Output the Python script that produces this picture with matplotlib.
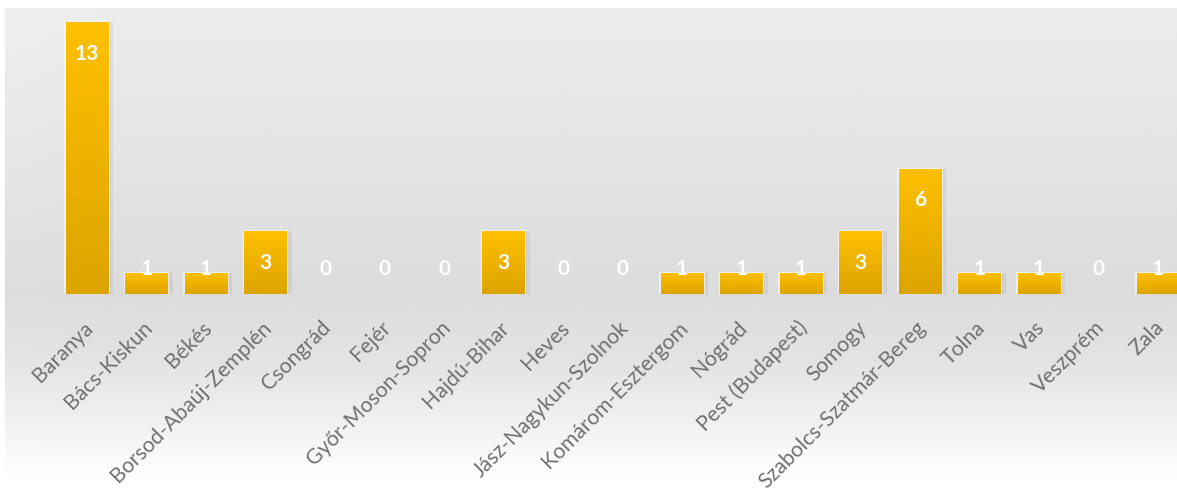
import numpy as np
import matplotlib.pyplot as plt
import matplotlib.transforms as mtransforms
from matplotlib.colors import LinearSegmentedColormap

counties = ["Baranya", "Bács-Kiskun", "Békés", "Borsod-Abaúj-Zemplén", "Csongrád",
            "Fejér", "Győr-Moson-Sopron", "Hajdú-Bihar", "Heves", "Jász-Nagykun-Szolnok",
            "Komárom-Esztergom", "Nógrád", "Pest (Budapest)", "Somogy",
            "Szabolcs-Szatmár-Bereg", "Tolna", "Vas", "Veszprém", "Zala"]
counts = [13, 1, 1, 3, 0, 0, 0, 3, 0, 0, 1, 1, 1, 3, 6, 1, 1, 0, 1]

W, H = 1177, 498
fig = plt.figure(figsize=(W / 100, H / 100), dpi=100)
fig.patch.set_facecolor("white")

# background gradient (grey on top, fading to white at the bottom)
bg = fig.add_axes([5 / W, 0, 1 - 5 / W, 1 - 8 / H], zorder=0)
yy = np.linspace(0, 1, 300)[:, None]
xx = np.linspace(0, 1, 400)[None, :]
prof = np.interp(yy, [0, 0.3, 0.58, 0.72, 0.85, 0.95, 1.0],
                 [0.925, 0.895, 0.862, 0.89, 0.945, 0.995, 1.0])
side = 0.012 * np.exp(-((xx - 0.0) / 0.06) ** 2) * (1 - yy)
bg.imshow(np.clip(prof + side, 0, 1), cmap="gray", vmin=0, vmax=1,
          aspect="auto", extent=[0, 1, 1, 0], interpolation="bicubic")
bg.axis("off")

# main axes
base_px, top_px = 294, 8
ax = fig.add_axes([8 / W, 1 - base_px / H, 1 - 8 / W, (base_px - top_px) / H], zorder=1)
ax.patch.set_alpha(0)
px_per_unit = 20.9

x = np.arange(len(counties))
vals = np.array(counts, dtype=float)
bw = 0.71
has = vals > 0

# soft shadow and halo behind the bars
ax.bar(x[has] + 0.09, vals[has], width=bw, color="#9a9a9a", alpha=0.18, zorder=1, linewidth=0)
ax.bar(x[has], vals[has] + 0.08, width=bw + 0.06, bottom=-0.04, color="white",
       alpha=0.55, zorder=2, linewidth=0)
bars = ax.bar(x, vals, width=bw, color="#f2b700", zorder=3, linewidth=0)

gold = LinearSegmentedColormap.from_list("gold", ["#dca400", "#ffc000"])
grad = np.linspace(0, 1, 100)[:, None]
for b in bars:
    if b.get_height() <= 0:
        continue
    x0, w, h = b.get_x(), b.get_width(), b.get_height()
    im = ax.imshow(grad, cmap=gold, aspect="auto", origin="lower",
                   extent=[x0, x0 + w, 0, h], zorder=4, interpolation="bicubic")
    im.set_clip_path(b)

ax.set_xlim((8 - 87) / 59.5, (1177 - 87) / 59.5)
ax.set_ylim(0, (base_px - top_px) / px_per_unit)

# value labels, white bold near the top of each bar
for xi, v in zip(x, counts):
    ly = max(v - 1.5, 1.2)
    ax.text(xi, ly, str(v), ha="center", va="center", color="white",
            fontsize=15, fontweight="bold", family="Lato", zorder=6)

ax.set_xticks(x)
ax.set_xticklabels(counties, rotation=45, ha="right", va="center",
                   rotation_mode="anchor", color="#707070", fontsize=15.3, family="Lato")
ax.tick_params(axis="x", length=0, pad=22)
shift = mtransforms.ScaledTranslation(3 / 100, 0, fig.dpi_scale_trans)
for lab in ax.get_xticklabels():
    lab.set_transform(lab.get_transform() + shift)
ax.set_yticks([])
for s in ax.spines.values():
    s.set_visible(False)

fig.savefig("out.png", dpi=100)
